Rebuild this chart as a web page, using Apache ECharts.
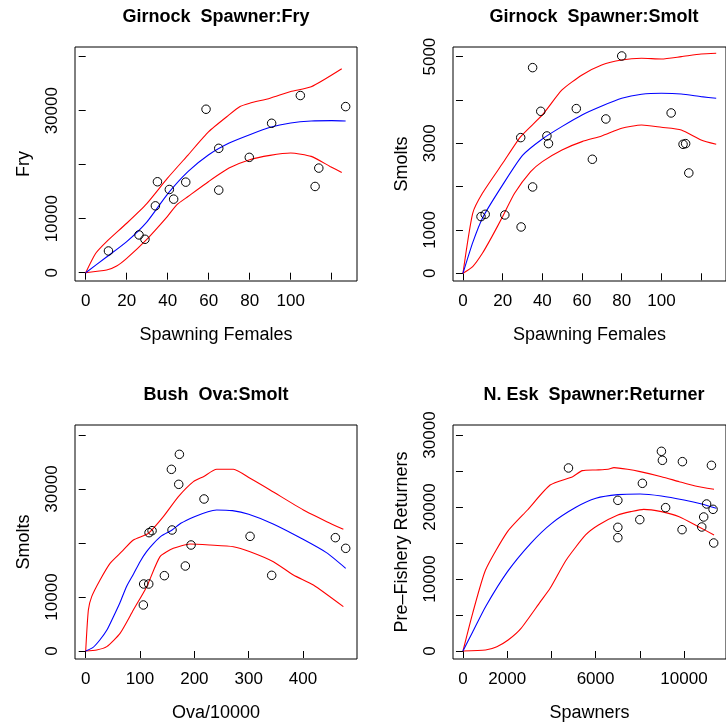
<!DOCTYPE html>
<html>
<head>
<meta charset="utf-8">
<script src="https://cdn.jsdelivr.net/npm/echarts@6/dist/echarts.min.js"></script>
<style>
  html, body { margin: 0; padding: 0; background: #fff; }
  #chart { width: 726px; height: 725px; }
</style>
</head>
<body>
<div id="chart"></div>
<script>
// Girnock Spawner:Fry
const fryPtsX = [11.1, 26.0, 28.9, 34.0, 35.0, 40.8, 42.9, 48.8, 58.7, 64.9, 64.9, 79.8, 90.7, 104.7, 111.9, 113.7, 126.8];
const fryPtsY = [4024, 6995, 6190, 12380, 16840, 15410, 13620, 16770, 30270, 23030, 15290, 21360, 27670, 32810, 15970, 19370, 30760];
const fryFitX = [0, 10, 20, 30, 40, 50, 60, 70, 80, 90, 100, 110, 120, 126.8];
const fryFit = [0, 2850, 5760, 9470, 14600, 18760, 21850, 24020, 25560, 26930, 27730, 28100, 28160, 28100];
const fryUpX = [0, 4.9, 10.2, 20, 29.8, 39.8, 49.9, 60, 69.9, 75.3, 80, 89.9, 100, 110, 124.9];
const fryUp = [0, 3590, 5760, 9160, 12800, 17460, 21790, 26120, 29220, 30770, 31390, 32320, 33560, 34420, 37760];
const fryLoX = [0, 10.2, 15.1, 20, 29.8, 39.8, 44.4, 49.9, 60, 69.9, 80, 89.9, 100, 110, 119.2, 124.9];
const fryLo = [0, 495, 1240, 2660, 6190, 10400, 12570, 14110, 16900, 19380, 20920, 21720, 22160, 21540, 19680, 18570];

// Girnock Spawner:Smolt
const smoltPtsX = [9.1, 11.2, 21.1, 29.1, 29.3, 35.1, 35.1, 39.2, 42.3, 43.1, 57.1, 65.2, 72.0, 80.0, 104.9, 110.9, 112.2, 113.8];
const smoltPtsY = [1308, 1361, 1346, 3131, 1069, 4746, 1992, 3738, 3169, 2992, 3800, 2631, 3561, 5015, 3700, 2977, 2992, 2315];
const smoltFitX = [0, 5, 10, 20, 30, 40, 50, 60, 70, 80, 90, 100, 110, 120, 127.6];
const smoltFit = [0, 720, 1290, 2040, 2720, 3100, 3390, 3654, 3860, 4038, 4130, 4154, 4138, 4077, 4038];
const smoltUpX = [0, 4.9, 9.8, 20, 29.1, 40, 49.9, 60, 69.9, 80, 90, 100, 110, 120, 127.6];
const smoltUp = [0, 1385, 1846, 2538, 3154, 3654, 4231, 4577, 4808, 4923, 4961, 4946, 5000, 5061, 5077];
const smoltLoX = [0, 4.9, 9.8, 14.6, 20, 26, 34.1, 40, 49.9, 60, 69.9, 80, 90, 100, 110, 120, 127.6];
const smoltLo = [0, 154, 462, 846, 1308, 1846, 2346, 2577, 2846, 3038, 3169, 3346, 3423, 3369, 3308, 3077, 2977];

// Bush Ova:Smolt
const ovaPtsX = [106.1, 106.7, 116.0, 116.6, 122.1, 144.8, 157.7, 158.9, 171.2, 172.4, 183.4, 193.9, 217.8, 302.5, 342.3, 459.5, 478.5];
const ovaPtsY = [8519, 12408, 12408, 21914, 22284, 13951, 33642, 22408, 30865, 36420, 15741, 19630, 28149, 21235, 14013, 20988, 19013];
const ovaFitX = [0, 13, 26, 39, 51, 63, 75, 88, 100, 112, 125, 140, 159, 175, 200, 225, 241, 270, 300, 345, 400, 443, 478.5];
const ovaFit = [0, 617, 2037, 3889, 6358, 8950, 11914, 14260, 16540, 18395, 19940, 21358, 22408, 23643, 24877, 25803, 26111, 25988, 25309, 23519, 20680, 18210, 15309];
const ovaUpX = [0, 4.9, 11, 26.4, 44.8, 66.3, 87.7, 115.3, 142.9, 170.6, 198.2, 216.6, 241.1, 271.8, 302.5, 339.3, 400.6, 443.6, 474.2];
const ovaUp = [0, 7593, 10063, 13150, 16236, 18397, 20557, 21792, 24878, 28582, 31360, 32286, 33644, 33644, 31977, 29817, 26113, 23952, 22532];
const ovaLoX = [0, 20.2, 38.7, 63.2, 87.7, 112.3, 136.8, 161.3, 192, 228.8, 271.8, 302.5, 345.4, 382.2, 419, 474.2];
const ovaLo = [0, 185, 802, 3272, 7593, 11914, 17469, 19013, 19815, 19630, 19321, 18396, 16544, 14074, 12223, 8210];

// N. Esk Spawner:Returner
const eskPtsX = [4774, 7008, 7008, 7008, 8001, 8118, 8979, 9023, 9169, 9913, 9928, 10804, 10892, 11023, 11242, 11315, 11344];
const eskPtsY = [25419, 20928, 17177, 15742, 18242, 23289, 27734, 26484, 19909, 16853, 26298, 17224, 18613, 20418, 25789, 19677, 15001];
const eskFitX = [0, 438, 1022, 2015, 3066, 4015, 5110, 6015, 7008, 8015, 8979, 10001, 10804, 11461];
const eskFit = [0, 2640, 6158, 11019, 14955, 17733, 19955, 21205, 21714, 21806, 21529, 20973, 20418, 19816];
const eskUpX = [0, 438, 1022, 2015, 2920, 3942, 4964, 5402, 6015, 6570, 6833, 7446, 8015, 8979, 9782, 10512, 11359];
const eskUp = [0, 5232, 11251, 16575, 19584, 23057, 24214, 25048, 25140, 25233, 25464, 25233, 24909, 24214, 23520, 22918, 22455];
const eskLoX = [0, 1022, 1533, 2044, 2628, 3504, 3942, 4672, 5548, 6132, 7008, 7592, 8176, 8979, 9782, 10658, 11359];
const eskLo = [0, 139, 602, 1528, 3148, 6852, 8704, 12640, 16112, 17501, 18890, 19353, 19677, 19353, 18658, 17270, 16112];

// axis ticks and labels
const fryXTicks = [0, 20, 40, 60, 80, 100, 120];
const fryXLabels = [0, 20, 40, 60, 80, 100];
const fryYTicks = [0, 10000, 20000, 30000, 40000];
const fryYLabels = [0, 10000, 30000];
const smoltXTicks = [0, 20, 40, 60, 80, 100, 120];
const smoltXLabels = [0, 20, 40, 60, 80, 100];
const smoltYTicks = [0, 1000, 2000, 3000, 4000, 5000];
const smoltYLabels = [0, 1000, 3000, 5000];
const ovaXTicks = [0, 100, 200, 300, 400];
const ovaXLabels = [0, 100, 200, 300, 400];
const ovaYTicks = [0, 10000, 20000, 30000, 40000];
const ovaYLabels = [0, 10000, 30000];
const eskXTicks = [0, 2000, 4000, 6000, 8000, 10000];
const eskXLabels = [0, 2000, 6000, 10000];
const eskYTicks = [0, 5000, 10000, 15000, 20000, 25000, 30000];
const eskYLabels = [0, 10000, 20000, 30000];

const FONT = '"Liberation Sans", Arial, Helvetica, sans-serif';

const panels = [
  {title: 'Girnock  Spawner:Fry', xName: 'Spawning Females', yName: 'Fry',
   xRange: [-5.22, 132.34], yRange: [-1537, 41796],
   xTicks: fryXTicks, xLabels: fryXLabels, yTicks: fryYTicks, yLabels: fryYLabels,
   pts: [fryPtsX, fryPtsY], fit: [fryFitX, fryFit], up: [fryUpX, fryUp], lo: [fryLoX, fryLo],
   grid: {left: 75, top: 47}},
  {title: 'Girnock  Spawner:Smolt', xName: 'Spawning Females', yName: 'Smolts',
   xRange: [-5.02, 132.54], yRange: [-178, 5222],
   xTicks: smoltXTicks, xLabels: smoltXLabels, yTicks: smoltYTicks, yLabels: smoltYLabels,
   pts: [smoltPtsX, smoltPtsY], fit: [smoltFitX, smoltFit], up: [smoltUpX, smoltUp], lo: [smoltLoX, smoltLo],
   grid: {left: 453, top: 47}},
  {title: 'Bush  Ova:Smolt', xName: 'Ova/10000', yName: 'Smolts',
   xRange: [-19.7, 499.3], yRange: [-1481, 41852],
   xTicks: ovaXTicks, xLabels: ovaXLabels, yTicks: ovaYTicks, yLabels: ovaYLabels,
   pts: [ovaPtsX, ovaPtsY], fit: [ovaFitX, ovaFit], up: [ovaUpX, ovaUp], lo: [ovaLoX, ovaLo],
   grid: {left: 75, top: 425}},
  {title: 'N. Esk  Spawner:Returner', xName: 'Spawners', yName: 'Pre\u2013Fishery Returners',
   xRange: [-451, 11901], yRange: [-1111, 31389],
   xTicks: eskXTicks, xLabels: eskXLabels, yTicks: eskYTicks, yLabels: eskYLabels,
   pts: [eskPtsX, eskPtsY], fit: [eskFitX, eskFit], up: [eskUpX, eskUp], lo: [eskLoX, eskLo],
   grid: {left: 453, top: 425}},
];

const W = 282, H = 234;
const zip = (xs, ys) => xs.map((x, i) => [x, ys[i]]);

const grids = [], xAxes = [], yAxes = [], series = [], graphics = [];
panels.forEach((p, i) => {
  grids.push({left: p.grid.left, top: p.grid.top, width: W, height: H,
    show: true, borderColor: '#000', borderWidth: 1, backgroundColor: 'transparent'});
  xAxes.push({
    type: 'value', gridIndex: i, min: p.xRange[0], max: p.xRange[1],
    name: p.xName, nameLocation: 'middle', nameGap: 45,
    nameTextStyle: {fontFamily: FONT, fontSize: 18, color: '#000'},
    axisLine: {show: false},
    axisTick: {show: true, inside: false, length: 7, customValues: p.xTicks, lineStyle: {color: '#000'}},
    axisLabel: {customValues: p.xLabels, formatter: (v) => String(v), margin: 12,
      fontFamily: FONT, fontSize: 17, color: '#000'},
    splitLine: {show: false},
  });
  yAxes.push({
    type: 'value', gridIndex: i, min: p.yRange[0], max: p.yRange[1],
    name: p.yName, nameLocation: 'middle', nameGap: 42, nameRotate: 90,
    nameTextStyle: {fontFamily: FONT, fontSize: 18, color: '#000'},
    axisLine: {show: false},
    axisTick: {show: true, inside: false, length: 7, customValues: p.yTicks, lineStyle: {color: '#000'}},
    axisLabel: {customValues: p.yLabels, formatter: (v) => String(v), rotate: 90, margin: 14,
      fontFamily: FONT, fontSize: 17, color: '#000'},
    splitLine: {show: false},
  });
  const line = (d, color) => ({
    type: 'line', xAxisIndex: i, yAxisIndex: i, data: d, showSymbol: false, smooth: 0.2,
    lineStyle: {color, width: 1.1}, silent: true, z: 2,
  });
  series.push(line(zip(p.up[0], p.up[1]), '#ff0000'));
  series.push(line(zip(p.lo[0], p.lo[1]), '#ff0000'));
  series.push(line(zip(p.fit[0], p.fit[1]), '#0000ff'));
  series.push({
    type: 'scatter', xAxisIndex: i, yAxisIndex: i, data: zip(p.pts[0], p.pts[1]),
    symbol: 'circle', symbolSize: 8.5, z: 3,
    itemStyle: {color: 'transparent', borderColor: '#000', borderWidth: 1, opacity: 1},
  });
  graphics.push({
    type: 'text', x: p.grid.left + W / 2, y: p.grid.top - 30,
    style: {text: p.title, font: 'bold 18px ' + FONT, fill: '#000', align: 'center', verticalAlign: 'middle'},
  });
});

const chart = echarts.init(document.getElementById('chart'), null, {renderer: 'canvas'});
chart.setOption({
  animation: false,
  backgroundColor: '#fff',
  grid: grids,
  xAxis: xAxes,
  yAxis: yAxes,
  series: series,
  graphic: graphics,
});
</script>
</body>
</html>
